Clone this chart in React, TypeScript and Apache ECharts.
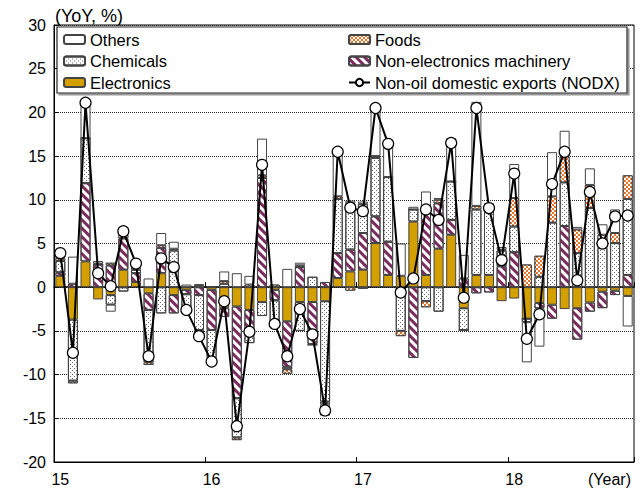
import React, { useEffect, useRef } from "react";
import * as echarts from "echarts";

const categories = [
  "2015-01","2015-02","2015-03","2015-04","2015-05","2015-06","2015-07","2015-08","2015-09","2015-10","2015-11","2015-12",
  "2016-01","2016-02","2016-03","2016-04","2016-05","2016-06","2016-07","2016-08","2016-09","2016-10","2016-11","2016-12",
  "2017-01","2017-02","2017-03","2017-04","2017-05","2017-06","2017-07","2017-08","2017-09","2017-10","2017-11","2017-12",
  "2018-01","2018-02","2018-03","2018-04","2018-05","2018-06","2018-07","2018-08","2018-09","2018-10",
];
const yearLabels: Record<string, string> = { "2015-01": "15", "2016-01": "16", "2017-01": "17", "2018-01": "18" };

const electronics = [1.3, -3.7, 2.95, -1.4, -0.9, 2.0, 0.6, -0.7, 1.6, -0.9, -0.3, 0.2, -0.3, -2.4, -2.2, -2.6, -1.7, -0.3, -3.9, -1.7, -1.7, -1.6, 1.05, 1.8, 2.0, 5.05, 1.4, 1.3, 7.5, 1.4, 4.4, 6.0, -2.4, 1.4, 1.4, -1.6, -1.3, -3.6, -1.8, -2.0, -2.5, -2.4, -1.75, -0.5, -0.4, -1.0];
const machinery = [0.4, 0.4, 8.95, 2.6, 2.5, 3.6, 1.0, -1.9, 2.9, -2.1, -0.5, -0.9, -4.6, -1.0, -10.5, -3.0, 12.5, -1.2, -5.2, 2.3, -4.8, 0.6, 2.85, 2.5, 4.2, 3.05, 3.8, -0.4, -8.1, 7.6, 5.2, 1.7, 1.0, -0.7, -0.6, 2.4, 4.0, 0, -0.6, -1.6, 7.0, -3.6, -1.05, -1.9, -0.5, 1.4];
const chemicals = [1.3, -7.0, 5.15, 0, -1.1, -0.5, 0.4, -6.0, -3.0, 4.2, -1.6, -4.0, -3.2, 0.4, -4.5, -0.8, -1.6, -2.8, -0.3, -3.3, 1.2, -11.5, 6.2, 5.3, 3.3, 6.7, 7.4, -4.6, 1.4, -1.6, -2.8, 4.4, -2.5, 7.5, 7.9, 1.8, 2.95, -0.4, 1.2, 7.4, 5.0, 3.9, 9.05, 4.5, 5.05, 8.7];
const foods = [0.3, -0.3, 0, 0.1, 0.3, 0.4, 0.3, -0.3, 0.3, 0.2, -0.5, 0.1, -0.4, 0.3, -0.3, 0.3, 0.3, 0.3, -0.5, 0.2, -0.1, -0.3, 0.3, -0.4, -0.2, 0.2, 0, -0.6, 0, -0.7, 0.4, 0, 0, 0.4, 0, 0.1, 3.25, 2.6, 2.4, 3.0, 2.95, 2.7, 2.65, 1.5, 1.15, 2.7];
const others = [0.4, 3.1, 4.35, 0.3, -0.8, 0.9, 0.5, 1.0, 1.4, 0.8, 0.3, -0.9, 0, 1.1, 1.6, 1.0, 4.2, -0.2, 2.1, 0.3, 0, -1.3, 4.9, 0.3, 0.3, 5.6, 3.9, 3.7, 0.3, 1.95, 0.2, 4.95, 2.7, 11.9, 0.3, 0.3, 3.9, -4.6, -4.4, 5.05, 2.95, 0.3, 1.9, 1.2, 2.7, -3.5];
const nodx = [3.9, -7.5, 21.1, 1.6, 0.1, 6.4, 2.7, -7.9, 3.3, 2.3, -2.6, -5.6, -8.5, -1.6, -15.9, -5.1, 14.0, -4.2, -7.9, -2.5, -5.4, -14.1, 15.5, 9.1, 8.7, 20.5, 16.4, -0.6, 1.0, 8.9, 7.7, 16.5, -1.2, 20.5, 9.05, 3.1, 13.0, -5.9, -3.1, 11.8, 15.5, 0.8, 10.9, 5.0, 8.1, 8.2];

const FONT = "'Liberation Sans', Arial, sans-serif";

export default function App() {
  const ref = useRef<HTMLDivElement>(null);
  useEffect(() => {
    document.body.style.margin = "0";
    const chart = echarts.init(ref.current!, null, { renderer: "svg" });
    const barBase = {
      type: "bar",
      stack: "total",
      barWidth: 10,
      xAxisIndex: 0,
      yAxisIndex: 0,
    };
    const border = { borderColor: "#444", borderWidth: 1 };
    const legendBase = {
      orient: "vertical", itemWidth: 21, itemHeight: 9, itemGap: 4.5, padding: 0, selectedMode: false,
      textStyle: { fontSize: 16.5, color: "#000", fontFamily: FONT },
    };
    const option: any = {
      animation: false,
      textStyle: { fontFamily: FONT },
      grid: { left: 54, right: 6, top: 25, bottom: 26, show: true, borderColor: "#000", borderWidth: 1, containLabel: false },
      legend: [
        { ...legendBase, left: 63, top: 31, data: ["Others", "Chemicals", "Electronics"] },
        { ...legendBase, left: 348, top: 31, data: ["Foods", "Non-electronics machinery", "Non-oil domestic exports (NODX)"] },
      ],
      graphic: [
        {
          type: "rect", z: 3, shape: { x: 57, y: 27, width: 570, height: 66 },
          style: { fill: "#fff", stroke: "#222", lineWidth: 1.2, shadowColor: "#999", shadowOffsetX: 2, shadowOffsetY: 2, shadowBlur: 0 },
        },
        { type: "text", left: 55, top: 7, style: { text: "(YoY, %)", font: `18px ${FONT}`, fill: "#000" } },
        { type: "text", right: 9, top: 471, style: { text: "(Year)", font: `16px ${FONT}`, fill: "#000" } },
      ],
      xAxis: [
        {
          type: "category", data: categories, position: "bottom",
          axisLine: { onZero: false, lineStyle: { color: "#000", width: 1 } },
          axisTick: { show: true, inside: true, length: 5, interval: (i: number) => i % 12 === 0, lineStyle: { color: "#000" } },
          axisLabel: { interval: 0, margin: 9, fontSize: 16, color: "#000", fontFamily: FONT, formatter: (v: string) => yearLabels[v] || "" },
          splitLine: { show: false },
        },
        {
          type: "category", data: categories, position: "top", gridIndex: 0,
          axisLine: { onZero: true, lineStyle: { color: "#000", width: 1.5 } },
          axisTick: { show: true, inside: false, length: 5, interval: (i: number) => i % 12 === 0, lineStyle: { color: "#000" } },
          axisLabel: { show: false },
          splitLine: { show: false },
        },
      ],
      yAxis: {
        type: "value", min: -20, max: 30, interval: 5,
        axisLine: { show: true, lineStyle: { color: "#000" } },
        axisTick: { show: true, inside: true, length: 4, lineStyle: { color: "#000" } },
        axisLabel: { fontSize: 16, color: "#000", margin: 8, fontFamily: FONT },
        splitLine: { show: true, lineStyle: { color: "#222", type: "dotted", width: 1 } },
      },
      series: [
        { ...barBase, name: "Electronics", data: electronics, itemStyle: { color: "#D4A000", ...border } },
        {
          ...barBase, name: "Non-electronics machinery", data: machinery,
          itemStyle: {
            color: "#fff", ...border,
            decal: { symbol: "rect", symbolSize: 1, dashArrayX: [1, 0], dashArrayY: [3, 3], rotation: Math.PI / 4, color: "#7B2C5E" },
          },
        },
        {
          ...barBase, name: "Chemicals", data: chemicals,
          itemStyle: {
            color: "#fff", ...border,
            decal: { symbol: "rect", symbolSize: 1, dashArrayX: [[1, 3], [0, 2, 1, 1]], dashArrayY: [1, 1], color: "#666" },
          },
        },
        {
          ...barBase, name: "Foods", data: foods,
          itemStyle: {
            color: "#E8742A", ...border,
            decal: { symbol: "rect", symbolSize: 1, dashArrayX: [[2, 2], [0, 2, 2, 0]], dashArrayY: [2, 0], color: "#fff" },
          },
        },
        { ...barBase, name: "Others", data: others, itemStyle: { color: "#fff", ...border } },
        {
          type: "line", name: "Non-oil domestic exports (NODX)", data: nodx, z: 5,
          symbol: "circle", symbolSize: 11, showSymbol: true,
          lineStyle: { color: "#000", width: 2 },
          itemStyle: { color: "#fff", borderColor: "#000", borderWidth: 1.2 },
        },
      ],
    };
    chart.setOption(option);
    return () => chart.dispose();
  }, []);
  return <div ref={ref} style={{ width: 640, height: 488 }} />;
}
